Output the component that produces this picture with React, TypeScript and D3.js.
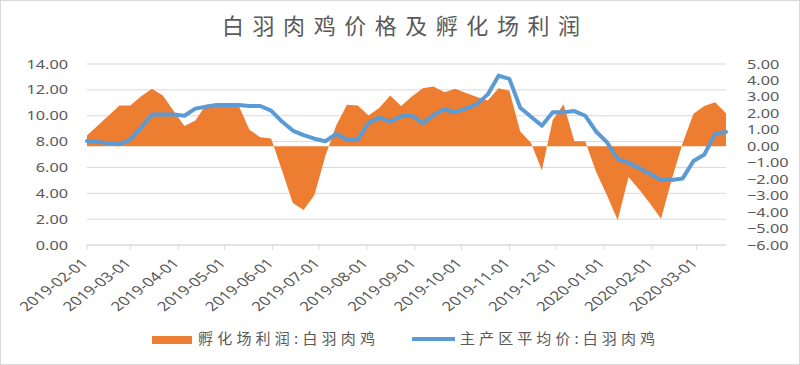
import React from 'react';
import * as d3 from 'd3';

const title = '白羽肉鸡价格及孵化场利润';
const profitName = '孵化场利润:白羽肉鸡';
const priceName = '主产区平均价:白羽肉鸡';

// weekly observations starting 2019-02-01
const startDate = new Date(2019, 1, 1);

// hatchery profit (right axis)
const profit = [
  0.66, 1.27, 1.87, 2.48, 2.48, 3.04, 3.49, 3.08, 2.15, 1.23,
  1.57, 2.52, 2.62, 2.55, 2.48, 1.0, 0.55, 0.47, -1.45, -3.45,
  -3.87, -2.96, -0.6, 1.25, 2.52, 2.48, 1.87, 2.34, 3.08, 2.44,
  3.02, 3.53, 3.63, 3.28, 3.49, 3.24, 3.0, 2.78, 3.52, 3.38,
  0.9, 0.2, -1.45, 1.6, 2.55, 0.3, 0.3, -1.55, -2.96, -4.5,
  -1.87, -2.64, -3.5, -4.4, -2.0, 0.2, 1.98, 2.44, 2.68, 2.0,
];

// main-region average price (left axis)
const price = [
  8.05, 7.97, 7.88, 7.8, 8.15, 9.1, 10.1, 10.1, 10.1, 10.0,
  10.55, 10.7, 10.83, 10.83, 10.83, 10.75, 10.75, 10.4, 9.55, 8.85,
  8.5, 8.22, 8.02, 8.6, 8.15, 8.15, 9.45, 9.85, 9.55, 9.95,
  10.0, 9.42, 10.05, 10.5, 10.27, 10.57, 10.88, 11.65, 13.1, 12.85,
  10.62, 9.92, 9.23, 10.26, 10.26, 10.36, 10.0, 8.78, 7.96, 6.65,
  6.35, 5.95, 5.5, 5.03, 5.03, 5.15, 6.5, 7.0, 8.6, 8.75,
];

const leftTicks = [0, 2, 4, 6, 8, 10, 12, 14];
const rightTicks = [-6, -5, -4, -3, -2, -1, 0, 1, 2, 3, 4, 5];

const W = 800;
const H = 365;
const gray = '#595959';
const grid = '#d9d9d9';
const orange = '#ed7d31';
const blue = '#5b9bd5';
const numFont = '"Noto Sans", "Open Sans", sans-serif';
const cjkFont = '"Noto Sans CJK SC", "Noto Sans", sans-serif';

export default function App() {
  const dates = profit.map((_, i) => d3.timeDay.offset(startDate, 7 * i));

  const x = d3.scaleTime()
    .domain([dates[0], dates[dates.length - 1]])
    .range([87, 726]);
  const yL = d3.scaleLinear().domain([0, 14]).range([245, 64]);
  const yR = d3.scaleLinear().domain([-6, 5]).range([245, 64]);

  const monthTicks = d3.timeMonth.range(dates[0], d3.timeDay.offset(dates[dates.length - 1], 1));
  const fmt = d3.timeFormat('%Y-%m-%d');

  const area = d3.area<number>()
    .x((_, i) => x(dates[i]))
    .y0(yR(0))
    .y1(d => yR(d));

  const line = d3.line<number>()
    .x((_, i) => x(dates[i]))
    .y(d => yL(d));

  const [x0, x1] = x.range();
  const base = yL(0);

  return (
    <svg width={W} height={H} style={{ position: 'absolute', left: 0, top: 0, background: '#fff' }}>
      <rect x={0.5} y={0.5} width={W - 1} height={H - 1} fill="#fff" stroke={grid} />

      <text x={222} y={34} fontFamily={cjkFont} fontSize={22} fill={gray}
        textLength={358} lengthAdjust="spacing">{title}</text>

      {/* gridlines */}
      {leftTicks.map(t => (
        <line key={t} x1={x0} x2={x1} y1={yL(t)} y2={yL(t)} stroke={grid} strokeWidth={1} />
      ))}

      <path d={area(profit) ?? ''} fill={orange} />
      <path d={line(price) ?? ''} fill="none" stroke={blue} strokeWidth={4}
        strokeLinejoin="round" strokeLinecap="round" />

      {/* x axis */}
      <line x1={x0} x2={x1} y1={base} y2={base} stroke={grid} />
      {monthTicks.map(d => (
        <g key={+d}>
          <line x1={x(d)} x2={x(d)} y1={base} y2={base + 5} stroke={grid} />
          <text transform={`translate(${x(d) + 2},${264}) scale(1.3,1) rotate(-45)`}
            textAnchor="end" fontFamily={numFont} fontSize={13} fill={gray}>{fmt(d)}</text>
        </g>
      ))}

      {/* left axis */}
      {leftTicks.map(t => (
        <text key={t} transform={`translate(68,${yL(t)}) scale(1.25,1)`} dy="0.35em"
          textAnchor="end" fontFamily={numFont} fontSize={13} fill={gray}>{d3.format('.2f')(t)}</text>
      ))}

      {/* right axis */}
      {rightTicks.map(t => (
        <text key={t} transform={`translate(747,${yR(t)}) scale(1.25,1)`} dy="0.35em"
          textAnchor="start" fontFamily={numFont} fontSize={13} fill={gray}>{d3.format('.2f')(t)}</text>
      ))}

      {/* legend */}
      <rect x={152} y={336} width={40} height={8} fill={orange} />
      <text x={198} y={344} fontFamily={cjkFont} fontSize={15} fill={gray}
        textLength={177} lengthAdjust="spacing">{profitName}</text>
      <line x1={412} x2={455} y1={339} y2={339} stroke={blue} strokeWidth={4} />
      <text x={460} y={344} fontFamily={cjkFont} fontSize={15} fill={gray}
        textLength={195} lengthAdjust="spacing">{priceName}</text>
    </svg>
  );
}
